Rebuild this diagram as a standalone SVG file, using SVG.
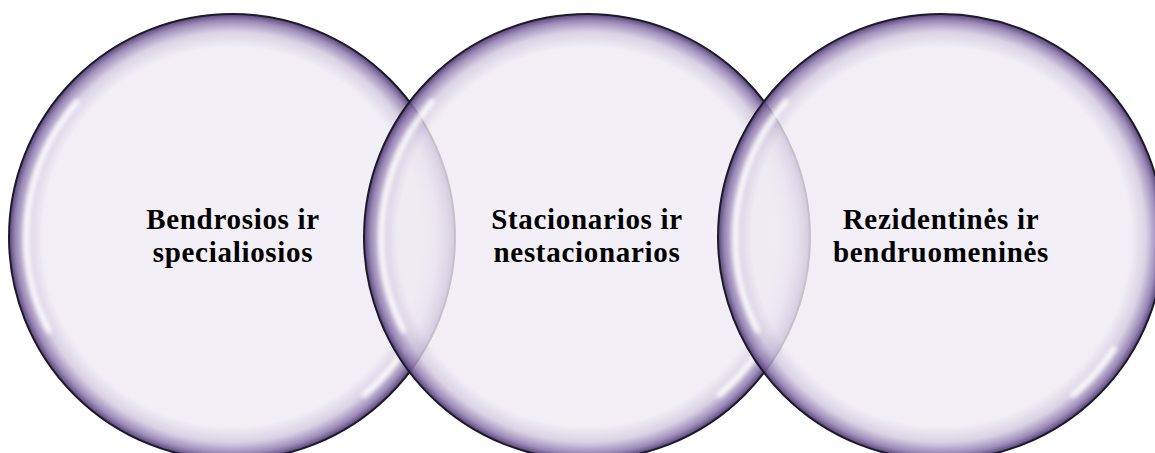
<svg xmlns="http://www.w3.org/2000/svg" xmlns:xlink="http://www.w3.org/1999/xlink" width="1155" height="453" viewBox="0 0 1155 453">
  <style>
    .bubble { fill: url(#bubbleFill); stroke: #1e1a2a; stroke-width: 2; }
    .hl { fill: none; stroke: #ffffff; stroke-width: 6; stroke-linecap: round; opacity: 0.85; filter: url(#soft); }
    .label { font-family: "Liberation Serif", "Times New Roman", serif; font-weight: bold; font-size: 29px; letter-spacing: 0.7px; fill: #000; text-anchor: middle; }
  </style>
  <defs>
    <radialGradient id="bubbleFill" cx="0.5" cy="0.5" r="0.5">
      <stop offset="0" stop-color="#efedf4" stop-opacity="0.8"/>
      <stop offset="0.85" stop-color="#eeebf3" stop-opacity="0.8"/>
      <stop offset="0.92" stop-color="#d2c8df" stop-opacity="0.82"/>
      <stop offset="0.97" stop-color="#8f7bae" stop-opacity="0.88"/>
      <stop offset="1" stop-color="#4e3a72" stop-opacity="0.95"/>
    </radialGradient>
    <filter id="soft" x="-20%" y="-20%" width="140%" height="140%">
      <feGaussianBlur stdDeviation="2"/>
    </filter>
    <g id="shine">
      <path class="hl" d="M -155.2 -135 A 206 206 0 0 0 -183.5 93.5"/>
      <path class="hl" d="M 172.8 112.2 A 206 206 0 0 1 132.4 157.8"/>
    </g>
  </defs>
  <rect width="1155" height="453" fill="#ffffff"/>
  <g id="node-bendrosios" transform="translate(232 237)">
    <circle class="bubble" cx="0" cy="0" r="223"/>
    <use xlink:href="#shine"/>
  </g>
  <g id="node-stacionarios" transform="translate(587 237)">
    <circle class="bubble" cx="0" cy="0" r="223"/>
    <use xlink:href="#shine"/>
  </g>
  <g id="node-rezidentines" transform="translate(941 237)">
    <circle class="bubble" cx="0" cy="0" r="223"/>
    <use xlink:href="#shine"/>
  </g>
  <g id="connectors"/>
  <g id="labels">
    <text class="label" x="233" y="229">Bendrosios ir</text>
    <text class="label" x="233" y="262">specialiosios</text>
    <text class="label" x="587" y="229">Stacionarios ir</text>
    <text class="label" x="587" y="262">nestacionarios</text>
    <text class="label" x="941" y="229">Rezidentinės ir</text>
    <text class="label" x="941" y="262">bendruomeninės</text>
  </g>
</svg>
